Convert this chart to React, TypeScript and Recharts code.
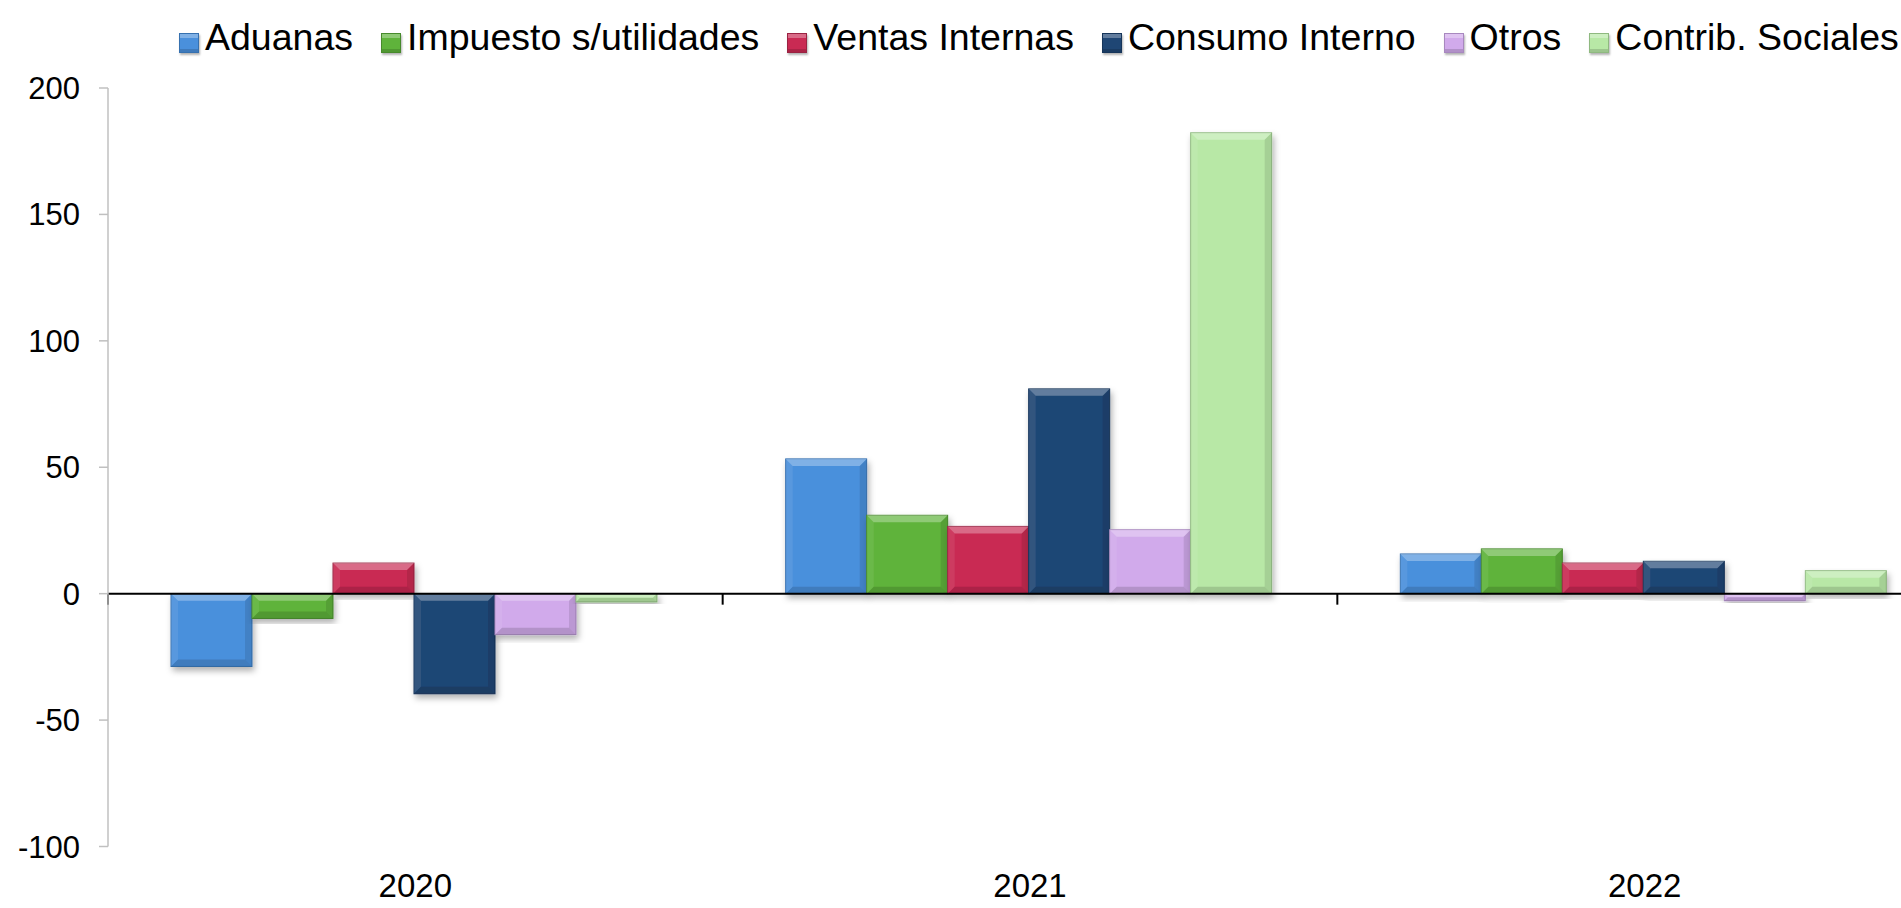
import React from 'react';
import { BarChart, Bar, XAxis, YAxis, ReferenceLine } from 'recharts';

// values
const years = ['2020', '2021', '2022'];
const aduanas = [-28.8, 53.3, 15.7];
const impuesto = [-9.8, 31, 17.7];
const ventas = [12.1, 26.6, 12.1];
const consumo = [-39.6, 81, 12.8];
const otros = [-16.2, 25.3, -2.8];
const contrib = [-3.3, 182.3, 9.1];
const yTicks = [-100, -50, 0, 50, 100, 150, 200];

const series = [
  { key: 'aduanas', name: 'Aduanas', values: aduanas, color: '#4a90dc', edge: '#3671b0' },
  { key: 'impuesto', name: 'Impuesto s/utilidades', values: impuesto, color: '#5fb33b', edge: '#478a2c' },
  { key: 'ventas', name: 'Ventas Internas', values: ventas, color: '#c92a53', edge: '#9a2342' },
  { key: 'consumo', name: 'Consumo Interno', values: consumo, color: '#1f4674', edge: '#16355a' },
  { key: 'otros', name: 'Otros', values: otros, color: '#d1aaeb', edge: '#a888bf' },
  { key: 'contrib', name: 'Contrib. Sociales', values: contrib, color: '#b8e8a6', edge: '#8fb980' },
];

const data = years.map((year, i) => {
  const row: Record<string, any> = { year };
  series.forEach((s) => (row[s.key] = s.values[i]));
  return row;
});

const FONT = '"Liberation Sans", Arial, sans-serif';

// bevelled bar like the office chart style
function BevelBar(props: any) {
  const { x, y, width, height, fill, edge } = props;
  const top = Math.min(y, y + height);
  const h = Math.abs(height);
  const w = width;
  if (!h || !w) return null;
  const b = Math.min(7, h / 2, w / 2);
  const l = x, r = x + w, t = top, bt = top + h;
  return (
    <g filter="url(#barShadow)">
      <rect x={l} y={t} width={w} height={h} fill={fill} stroke={edge} strokeWidth={1} />
      <polygon points={`${l},${t} ${r},${t} ${r - b},${t + b} ${l + b},${t + b}`} fill="#fff" fillOpacity={0.3} />
      <polygon points={`${l},${t} ${l + b},${t + b} ${l + b},${bt - b} ${l},${bt}`} fill="#fff" fillOpacity={0.08} />
      <polygon points={`${r},${t} ${r},${bt} ${r - b},${bt - b} ${r - b},${t + b}`} fill="#000" fillOpacity={0.1} />
      <polygon points={`${l},${bt} ${l + b},${bt - b} ${r - b},${bt - b} ${r},${bt}`} fill="#000" fillOpacity={0.14} />
    </g>
  );
}

function ZeroLine(props: any) {
  const { x1, y1, x2 } = props;
  const step = (x2 - x1) / years.length;
  return (
    <g>
      <line x1={x1} y1={y1} x2={x2} y2={y1} stroke="#000" strokeWidth={2} />
      {years.concat(['end']).map((_, k) => (
        <line key={k} x1={x1 + k * step} y1={y1} x2={x1 + k * step} y2={y1 + 11} stroke="#000" strokeWidth={2} />
      ))}
    </g>
  );
}

function Legend() {
  return (
    <div
      style={{
        position: 'absolute',
        left: 179,
        top: 16,
        display: 'flex',
        alignItems: 'center',
        fontFamily: FONT,
        fontSize: 37.5,
        color: '#000',
        whiteSpace: 'nowrap',
      }}
    >
      {series.map((s, i) => (
        <div key={s.key} style={{ display: 'flex', alignItems: 'center', marginRight: i < series.length - 1 ? 28 : 0 }}>
          <span
            style={{
              display: 'inline-block',
              width: 20,
              height: 20,
              marginTop: 10,
              marginRight: 6,
              background: s.color,
              border: `1px solid ${s.edge}`,
              boxShadow: 'inset 0 4px 0 rgba(255,255,255,0.3), inset 0 -3px 0 rgba(0,0,0,0.15), 1px 2px 2px rgba(0,0,0,0.3)',
              boxSizing: 'border-box',
            }}
          />
          <span>{s.name}</span>
        </div>
      ))}
    </div>
  );
}

export default function App() {
  return (
    <div style={{ position: 'fixed', left: 0, top: 0, width: 1901, height: 908, overflow: 'hidden', background: '#fff' }}>
      <BarChart
        width={1952}
        height={908}
        data={data}
        margin={{ top: 88, right: 0, bottom: 0, left: 0 }}
        barCategoryGap={63}
        barGap={0}
      >
        <defs>
          <filter id="barShadow" x="-10%" y="-10%" width="130%" height="130%">
            <feDropShadow dx={2} dy={4} stdDeviation={3} floodColor="#000" floodOpacity={0.3} />
          </filter>
        </defs>
        <XAxis
          dataKey="year"
          axisLine={false}
          tickLine={false}
          tickSize={0}
          tickMargin={27}
          height={61.5}
          tick={{ fill: '#000', fontSize: 33, fontFamily: FONT }}
        />
        <YAxis
          type="number"
          domain={[-100, 200]}
          ticks={yTicks}
          width={108}
          axisLine={{ stroke: '#c0c0c0', strokeWidth: 1.5 }}
          tickLine={{ stroke: '#c0c0c0', strokeWidth: 1.5 }}
          tickSize={9}
          tickMargin={19}
          tick={{ fill: '#000', fontSize: 31, fontFamily: FONT }}
        />
        {series.map((s) => (
          <Bar
            key={s.key}
            dataKey={s.key}
            name={s.name}
            fill={s.color}
            isAnimationActive={false}
            shape={(p: any) => <BevelBar {...p} fill={s.color} edge={s.edge} />}
          />
        ))}
        <ReferenceLine y={0} shape={(p: any) => <ZeroLine {...p} />} />
      </BarChart>
      <Legend />
    </div>
  );
}
